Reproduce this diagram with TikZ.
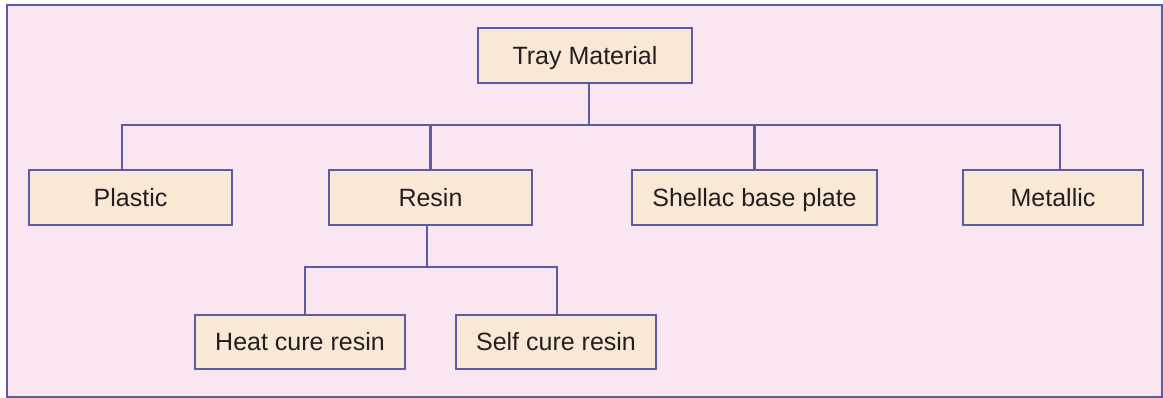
\documentclass[tikz,border=0pt]{standalone}
\usepackage{fontspec}
\setmainfont{Liberation Sans}
\definecolor{bgpink}{HTML}{FAE6F0}
\definecolor{boxfill}{HTML}{FAE8D6}
\definecolor{linecol}{HTML}{5A5CA4}
\definecolor{textcol}{HTML}{231F20}
\tikzset{
  matbox/.style={draw=linecol, line width=2.2pt, fill=boxfill, minimum height=55pt, inner sep=0pt,
    text height=18pt, text depth=0pt,
    text=textcol, font=\fontsize{25pt}{30pt}\selectfont},
  conn/.style={draw=linecol, line width=2.2pt}
}
\begin{document}
\begin{tikzpicture}[x=1pt,y=-1pt]
\useasboundingbox (0,0) rectangle (1163,398);
\fill[white] (0,0) rectangle (1163,398);
\draw[draw=linecol, line width=2pt, fill=bgpink] (7,5) rectangle (1162,397);

\node[matbox, minimum width=214pt] (tray) at (585,55.5) {Tray Material};
\node[matbox, minimum width=203pt] (plastic) at (130.5,197.5) {Plastic};
\node[matbox, minimum width=203pt] (resin) at (430.5,197.5) {Resin};
\node[matbox, minimum width=245pt] (shellac) at (754.5,197.5) {Shellac base plate};
\node[matbox, minimum width=180pt] (metallic) at (1053,197.5) {Metallic};
\node[matbox, minimum width=210pt, minimum height=54pt] (heat) at (300,342) {Heat cure resin};
\node[matbox, minimum width=200pt, minimum height=54pt] (self) at (556,342) {Self cure resin};

\coordinate (trunk) at (589,125);
\coordinate (sub) at (427,267);

\draw[conn] ([xshift=4pt]tray.south) -- (trunk);
\draw[conn] ([xshift=-8.5pt]plastic.north) |- (trunk) -| ([xshift=7pt]metallic.north);
\draw[conn] (resin.north) -- (resin.north |- trunk);
\draw[conn] (shellac.north) -- (shellac.north |- trunk);
\draw[conn] ([xshift=-3.5pt]resin.south) -- (sub);
\draw[conn] ([xshift=5pt]heat.north) |- (sub) -| ([xshift=1pt]self.north);
\end{tikzpicture}
\end{document}
